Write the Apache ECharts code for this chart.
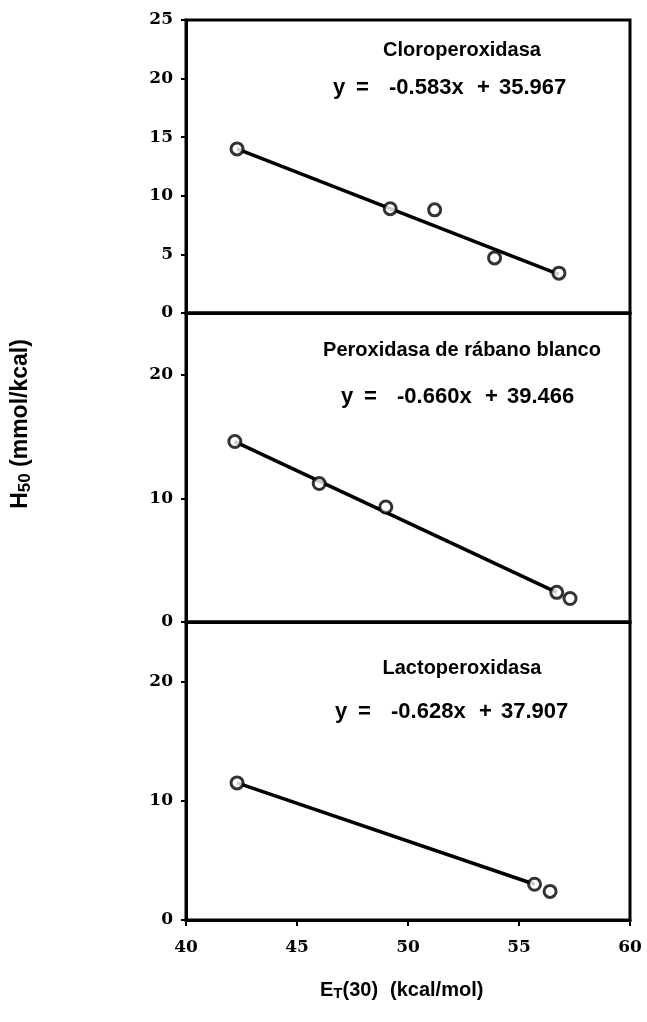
<!DOCTYPE html>
<html>
<head>
<meta charset="utf-8">
<script src="https://cdn.jsdelivr.net/npm/echarts@6/dist/echarts.min.js"></script>
<style>html,body{margin:0;padding:0;background:#fff}#c{width:647px;height:1022px}</style>
</head>
<body>
<div id="c"></div>
<script>
// ---- data ----
const panelNames = ['Cloroperoxidasa', 'Peroxidasa de rábano blanco', 'Lactoperoxidasa'];
const slopes = ['-0.583x', '-0.660x', '-0.628x'];
const intercepts = ['35.967', '39.466', '37.907'];
const xTicks = [40, 45, 50, 55, 60];
const yTicksTop = [0, 5, 10, 15, 20, 25];
const yTicksOther = [0, 10, 20];

const pointsCloro = [[42.3, 14.0], [49.2, 8.9], [51.2, 8.8], [53.9, 4.7], [56.8, 3.4]];
const pointsPerox = [[42.2, 14.6], [46.0, 11.2], [49.0, 9.3], [56.7, 2.4], [57.3, 1.9]];
const pointsLacto = [[42.3, 11.5], [55.7, 3.0], [56.4, 2.4]];

const lineCloro = [[42.3, 14.0], [56.8, 3.3]];
const linePerox = [[42.2, 14.6], [56.7, 2.4]];
const lineLacto = [[42.3, 11.5], [55.7, 3.0]];

// ---- chart ----
const chart = echarts.init(document.getElementById('c'), null, {renderer: 'canvas'});
const grids = [
  {left: 186, right: 17, top: 20, height: 293},
  {left: 186, right: 17, top: 313, height: 309},
  {left: 186, right: 17, top: 622, height: 298}
];
const serif = {fontFamily: 'DejaVu Serif', fontSize: 17, fontWeight: 'bold', color: '#000'};

const xAxes = grids.map((g, i) => ({
  type: 'value', gridIndex: i, min: xTicks[0], max: xTicks[xTicks.length - 1], interval: 5,
  splitLine: {show: false},
  axisLine: {show: true, lineStyle: {color: '#000', width: 3}},
  axisTick: {show: i === 2, length: 6, lineStyle: {color: '#000', width: 2}},
  axisLabel: Object.assign({show: i === 2, margin: 19}, serif)
}));
const yAxes = grids.map((g, i) => ({
  type: 'value', gridIndex: i, min: 0, max: 25, interval: i === 0 ? 5 : 10,
  splitLine: {show: false},
  axisLine: {show: true, lineStyle: {color: '#000', width: 3}},
  axisTick: {show: true, length: 5, lineStyle: {color: '#000', width: 2}},
  axisLabel: Object.assign({margin: 13, showMaxLabel: i === 0}, serif)
}));

const pointSets = [pointsCloro, pointsPerox, pointsLacto];
const lineSets = [lineCloro, linePerox, lineLacto];
const series = [];
for (let i = 0; i < 3; i++) {
  series.push({
    type: 'line', xAxisIndex: i, yAxisIndex: i, data: lineSets[i],
    symbol: 'none', lineStyle: {color: '#000', width: 3.5}, silent: true, z: 2
  });
  series.push({
    type: 'scatter', xAxisIndex: i, yAxisIndex: i, data: pointSets[i],
    symbol: 'circle', symbolSize: 12,
    itemStyle: {color: '#fff', borderColor: '#000', borderWidth: 3}, z: 3
  });
}

const sans = 'Liberation Sans';
const titleY = [50, 350, 668];
const eqY = [88, 397, 712];
const eqX = [333, 341, 335];
const graphic = [];
function txt(x, y, s, font, align) {
  return {type: 'text', x: x, y: y,
    style: {text: s, font: font, fill: '#000', textAlign: align || 'left', textVerticalAlign: 'middle'}};
}
for (let i = 0; i < 3; i++) {
  graphic.push(txt(462, titleY[i], panelNames[i], 'bold 20px ' + sans, 'center'));
  const f = 'bold 22px ' + sans, x0 = eqX[i];
  graphic.push(txt(x0, eqY[i], 'y', f));
  graphic.push(txt(x0 + 23, eqY[i], '=', f));
  graphic.push(txt(x0 + 56, eqY[i], slopes[i], f));
  graphic.push(txt(x0 + 144, eqY[i], '+', f));
  graphic.push(txt(x0 + 166, eqY[i], intercepts[i], f));
}
// y axis title (rotated)
graphic.push({type: 'text', x: 21, y: 424, rotation: Math.PI / 2,
  style: {text: 'H{s|50} (mmol/kcal)', textAlign: 'center', textVerticalAlign: 'middle',
    font: 'bold 23px ' + sans, fill: '#000',
    rich: {s: {fontSize: 17, fontWeight: 'bold', fontFamily: sans, padding: [8, 0, 0, 0]}}}});
// x axis title
graphic.push({type: 'text', x: 320, y: 990,
  style: {text: 'E{s|T}{n|(30)}', textAlign: 'left', textVerticalAlign: 'middle',
    font: 'bold 20px ' + sans, fill: '#000',
    rich: {s: {fontSize: 15, fontWeight: 'bold', fontFamily: sans, padding: [8, 0, 0, 0]},
           n: {fontSize: 20, fontWeight: 'bold', fontFamily: sans}}}});
graphic.push(txt(390, 990, '(kcal/mol)', 'bold 20px ' + sans));

chart.setOption({
  animation: false,
  backgroundColor: '#fff',
  grid: grids.map(g => Object.assign({show: true, borderColor: '#000', borderWidth: 3, backgroundColor: 'transparent'}, g)),
  xAxis: xAxes,
  yAxis: yAxes,
  series: series,
  graphic: graphic
});
</script>
</body>
</html>
